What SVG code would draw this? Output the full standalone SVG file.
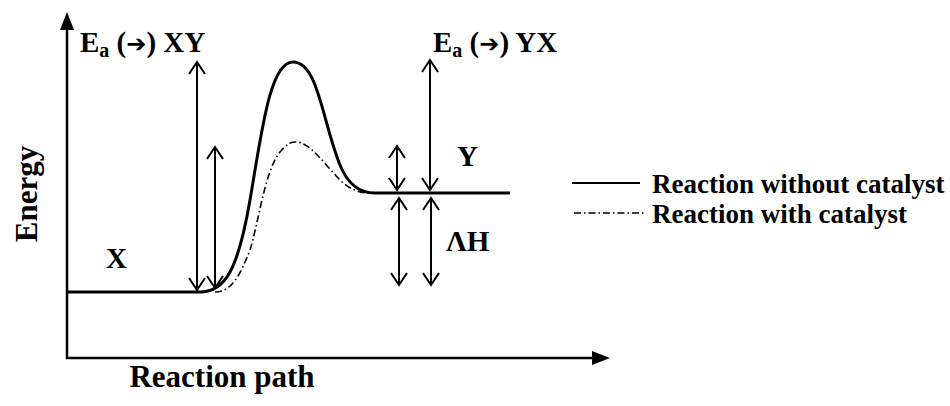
<svg xmlns="http://www.w3.org/2000/svg" width="950" height="406" viewBox="0 0 950 406">
<style>
text{font-family:'Liberation Serif','DejaVu Serif',serif;font-weight:bold;fill:#000;font-size:29px}
.ax{stroke:#000;stroke-width:2.5;fill:none}
.arr{stroke:#000;stroke-width:2;fill:none;marker-start:url(#v);marker-end:url(#v)}
.sol{stroke:#000;stroke-width:3;fill:none;stroke-linejoin:round}
.cat{stroke:#000;stroke-width:1.6;fill:none;stroke-dasharray:7 3 1.5 3}
.sub{font-size:20px}
.sym{font-family:'DejaVu Sans',sans-serif;font-size:24px}
.leg{font-size:27px}
.big{font-size:31px}
</style>
<defs>
<marker id="v" viewBox="0 0 20 20" refX="18" refY="10" markerWidth="20" markerHeight="20" markerUnits="userSpaceOnUse" orient="auto-start-reverse">
<path d="M6,2 L18,10 L6,18" fill="none" stroke="#000" stroke-width="2"/>
</marker>
</defs>
<g id="axes">
<path class="ax" d="M67,28 V358 H594"/>
<path d="M67,12 L60,30 L74,30 Z" fill="#000"/>
<path d="M610,358 L592,351 L592,365 Z" fill="#000"/>
</g>
<g id="curves">
<path class="sol" d="M67,292 H200 C225,292 238,270 250,200 C262,130 270,62 293,62 C318,62 322,120 340,165 C350,190 365,193 375,193 H510"/>
<path class="cat" d="M215,292 C232,292 240,275 250,250 C258,225 265,170 280,152 C287,144 290,142 296,142 C310,142 325,165 340,180 C350,190 360,193 370,193"/>
</g>
<g id="connectors">
<line class="arr" x1="197" y1="62" x2="197" y2="290"/>
<line class="arr" x1="215" y1="147" x2="215" y2="288"/>
<line class="arr" x1="430" y1="60" x2="430" y2="190"/>
<line class="arr" x1="397" y1="146" x2="397" y2="190"/>
<line class="arr" x1="399" y1="198" x2="399" y2="285"/>
<line class="arr" x1="431" y1="198" x2="431" y2="285"/>
</g>
<g id="labels">
<text x="80" y="52">E<tspan class="sub" dy="5">a</tspan><tspan dy="-5"> (</tspan><tspan class="sym">➔</tspan>) XY</text>
<text x="433" y="52">E<tspan class="sub" dy="5">a</tspan><tspan dy="-5"> (</tspan><tspan class="sym">➔</tspan>) YX</text>
<text x="457" y="166">Y</text>
<text x="446" y="251">ΛH</text>
<text x="106" y="268">X</text>
<text class="big" transform="translate(37,194) rotate(-90)" text-anchor="middle">Energy</text>
<text class="big" x="222" y="387" text-anchor="middle">Reaction path</text>
</g>
<g id="legend">
<line x1="572" y1="183" x2="640" y2="183" stroke="#000" stroke-width="2"/>
<text class="leg" x="652" y="193">Reaction without catalyst</text>
<line class="cat" x1="574" y1="213" x2="646" y2="213" style="stroke-width:1.5"/>
<text class="leg" x="652" y="223">Reaction with catalyst</text>
</g>
</svg>
